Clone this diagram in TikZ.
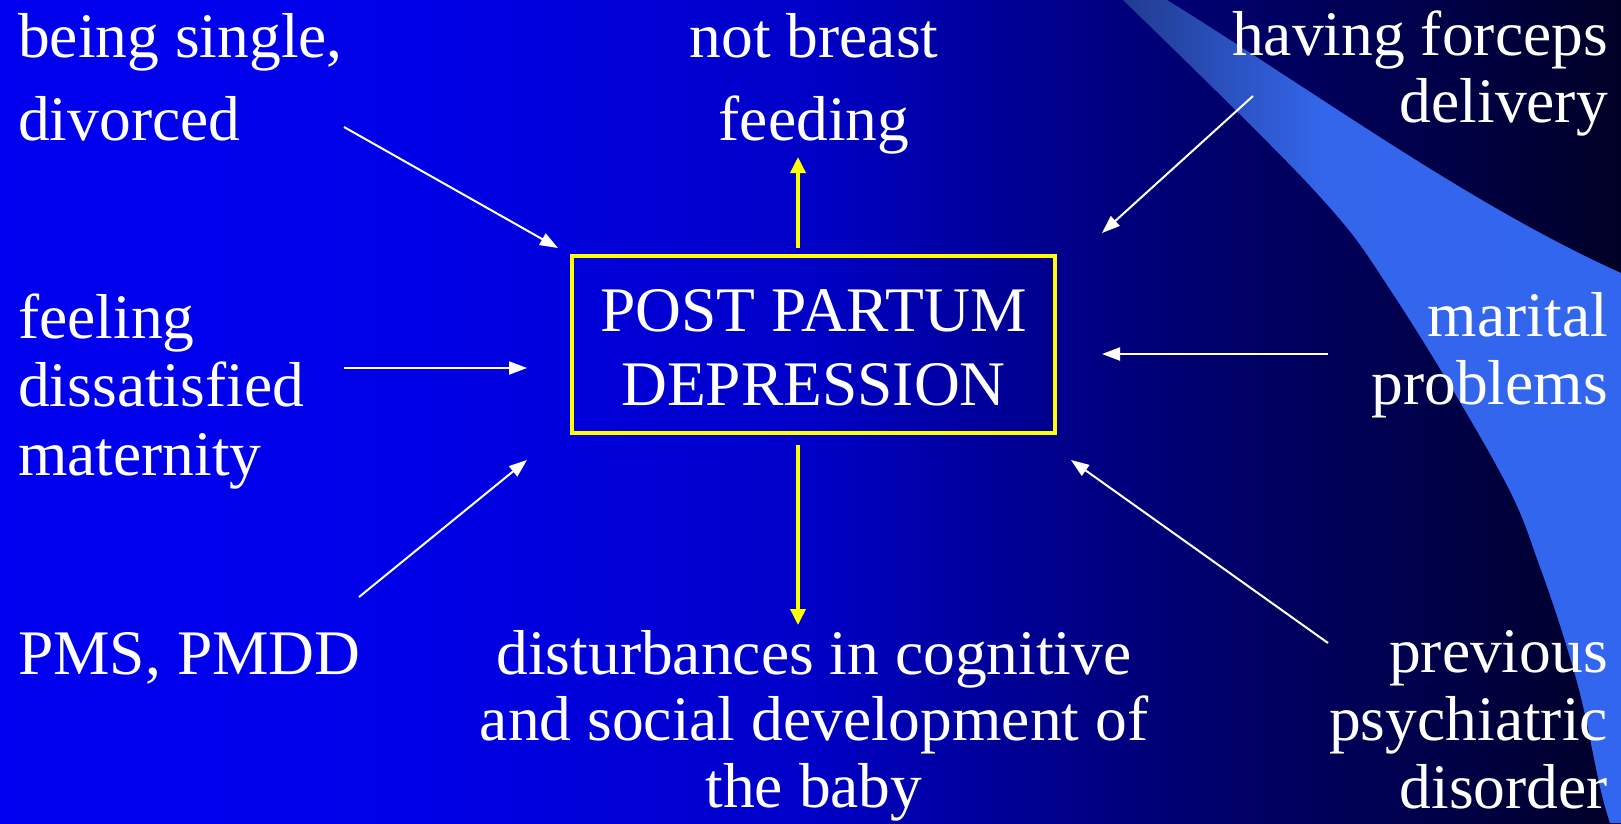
\documentclass[tikz,border=0pt]{standalone}
\usepackage{fontspec}
\setmainfont{Liberation Serif}
\usetikzlibrary{arrows.meta}
\pgfdeclarehorizontalshading{bgshade}{100bp}{rgb(0bp)=(0,0,0.94); rgb(25bp)=(0,0,0.94); rgb(37.5bp)=(0,0,0.91); rgb(50bp)=(0,0,0.78); rgb(56bp)=(0,0,0.59); rgb(62bp)=(0,0,0.43); rgb(70bp)=(0,0,0.27); rgb(75bp)=(0,0,0.15); rgb(100bp)=(0,0,0.15)}
\pgfdeclarehorizontalshading{swooshshade}{100bp}{rgb(0bp)=(0.13,0.23,0.56); rgb(25bp)=(0.13,0.23,0.56); rgb(45bp)=(0.2,0.4,0.92); rgb(75bp)=(0.2,0.4,0.94); rgb(100bp)=(0.2,0.4,0.94)}
\definecolor{ppdyellow}{RGB}{255,255,0}
\begin{document}
\begin{tikzpicture}[x=1pt,y=-1pt,
  lbl/.style={text=white, inner sep=0pt, font=\fontsize{63.5}{66}\selectfont},
  whitearrow/.style={draw=white, line width=2pt, -{Triangle[length=18pt,width=13pt]}},
  yellowarrow/.style={draw=ppdyellow, line width=3.5pt, -{Triangle[length=16pt,width=15pt]}},
  ppdbox/.style={draw=ppdyellow, line width=4.5pt, minimum width=483pt, minimum height=177pt, inner sep=0pt}]
\useasboundingbox (0,0) rectangle (1621,823);
% background
\shade[shading=bgshade] (0,0) rectangle (1621,823);
% swoosh
\shade[shading=swooshshade] (1123,0) -- (1167,0) .. controls (1320,95) and (1470,205) .. (1621,273) -- (1621,823) -- (1610,823)
  -- plot[smooth, tension=0.6] coordinates {(1610,823) (1600,787) (1577,682) (1540,567) (1500,472) (1393,294) (1313,189) (1123,0)} -- cycle;

% central box
\node[ppdbox] (box) at (813.5,344.5) {};
\node[lbl, anchor=base] (ppd1) at (813.5,331) {POST PARTUM};
\node[lbl, anchor=base] (ppd2) at (813.5,405) {DEPRESSION};

% left labels
\node[lbl, anchor=base west] (single1) at (18,57) {being single,};
\node[lbl, anchor=base west] (single2) at (18,140) {divorced};
\node[lbl, anchor=base west] (feel1) at (18,338) {feeling};
\node[lbl, anchor=base west] (feel2) at (18,406) {dissatisfied};
\node[lbl, anchor=base west] (feel3) at (18,475) {maternity};
\node[lbl, anchor=base west] (pms) at (18,674) {PMS, PMDD};

% top centre
\node[lbl, anchor=base] (breast1) at (814,57) {not breast};
\node[lbl, anchor=base] (breast2) at (814,140) {feeding};

% right labels
\node[lbl, anchor=base east] (forceps1) at (1608,55) {having forceps};
\node[lbl, anchor=base east] (forceps2) at (1608,122) {delivery};
\node[lbl, anchor=base east] (marital1) at (1608,336) {marital};
\node[lbl, anchor=base east] (marital2) at (1608,404) {problems};
\node[lbl, anchor=base east] (prev1) at (1608,672) {previous};
\node[lbl, anchor=base east] (prev2) at (1608,740) {psychiatric};
\node[lbl, anchor=base east] (prev3) at (1608,808) {disorder};

% bottom centre
\node[lbl, anchor=base] (dist1) at (814,674) {disturbances in cognitive};
\node[lbl, anchor=base] (dist2) at (814,740) {and social development of};
\node[lbl, anchor=base] (dist3) at (814,807) {the baby};

% connector end points
\coordinate (s1) at (344,127);   \coordinate (e1) at (558,248);
\coordinate (s2) at (344,368);   \coordinate (e2) at (527,368);
\coordinate (s3) at (359,597);   \coordinate (e3) at (527,460);
\coordinate (s4) at (1253,96);   \coordinate (e4) at (1102,233);
\coordinate (s5) at (1328,354);  \coordinate (e5) at (1102,354);
\coordinate (s6) at (1328,643);  \coordinate (e6) at (1071,460);
\coordinate (su) at (798,248);   \coordinate (eu) at (798,157);
\coordinate (sd) at (798,445);   \coordinate (ed) at (798,625);

\draw[whitearrow] (s1) -- (e1);
\draw[whitearrow] (s2) -- (e2);
\draw[whitearrow] (s3) -- (e3);
\draw[whitearrow] (s4) -- (e4);
\draw[whitearrow] (s5) -- (e5);
\draw[whitearrow] (s6) -- (e6);
\draw[yellowarrow] (su) -- (eu);
\draw[yellowarrow] (sd) -- (ed);
\end{tikzpicture}
\end{document}
